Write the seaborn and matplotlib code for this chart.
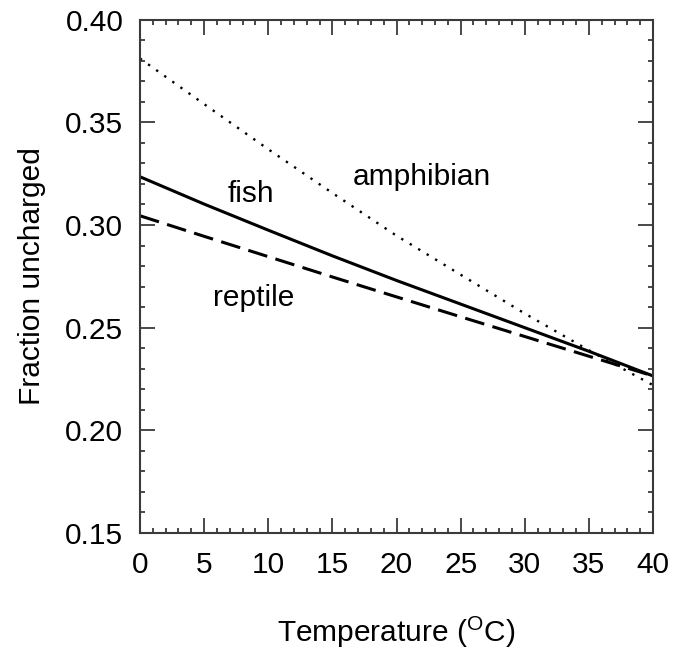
import matplotlib
matplotlib.use("Agg")
import matplotlib.pyplot as plt
import seaborn as sns
import pandas as pd
from matplotlib.ticker import MultipleLocator

# Data
temperature = [0, 5, 10, 15, 20, 25, 30, 35, 40]
fish = [0.3235, 0.3102, 0.2975, 0.2850, 0.2730, 0.2615, 0.2500, 0.2385, 0.2265]
reptile = [0.3045, 0.2945, 0.2846, 0.2747, 0.2650, 0.2553, 0.2457, 0.2361, 0.2265]
amphibian = [0.3811, 0.3589, 0.3369, 0.3156, 0.2948, 0.2758, 0.2569, 0.2390, 0.2220]

x_ticks = [0, 5, 10, 15, 20, 25, 30, 35, 40]
y_ticks = [0.15, 0.20, 0.25, 0.30, 0.35, 0.40]

sns.set_theme(style="white")
plt.rcParams["font.family"] = ["Liberation Sans", "DejaVu Sans"]
plt.rcParams["mathtext.fontset"] = "custom"
plt.rcParams["mathtext.rm"] = "Liberation Sans"
plt.rcParams["text.color"] = "black"

fig = plt.figure(figsize=(6.73, 6.51), dpi=100)
ax = fig.add_axes([140 / 673, 118 / 651, 513 / 673, (533 - 19.7) / 651])

df = pd.DataFrame({"T": temperature, "fish": fish, "reptile": reptile, "amphibian": amphibian})

sns.lineplot(data=df, x="T", y="fish", ax=ax, color="black", linewidth=2.2)
sns.lineplot(data=df, x="T", y="reptile", ax=ax, color="black", linewidth=2.2)
ax.lines[-1].set_dashes((6.5, 2.8))
sns.lineplot(data=df, x="T", y="amphibian", ax=ax, color="black", linewidth=1.7)
ax.lines[-1].set_dashes((1, 3.2))

ax.set_xlim(0, 40)
ax.set_ylim(0.15, 0.40)
ax.set_xticks(x_ticks)
ax.set_yticks(y_ticks)
ax.set_xticklabels([str(v) for v in x_ticks])
ax.set_yticklabels([f"{v:.2f}" for v in y_ticks])
ax.xaxis.set_minor_locator(MultipleLocator(1))
ax.yaxis.set_minor_locator(MultipleLocator(0.01))

spine_color = "#3a3a3a"
for s in ax.spines.values():
    s.set_visible(True)
    s.set_color(spine_color)
    s.set_linewidth(1.5)

ax.tick_params(which="both", direction="in", top=True, right=True,
               bottom=True, left=True, color=spine_color, width=1.3)
ax.tick_params(which="major", length=10.8, labelsize=21.5, labelcolor="black")
ax.tick_params(axis="x", which="major", pad=13)
ax.tick_params(axis="y", which="major", pad=12)
ax.tick_params(which="minor", length=3.6)

ax.set_xlabel(r"Temperature ($^{\mathrm{O}}$C)", fontsize=21.5, labelpad=25, color="black")
ax.set_ylabel("Fraction uncharged", fontsize=21.5, labelpad=14, color="black")

ax.text(6.86, 0.3112, "fish", fontsize=21.5, ha="left", va="baseline", color="black")
ax.text(16.6, 0.3195, "amphibian", fontsize=21.5, ha="left", va="baseline", color="black")
ax.text(5.69, 0.2608, "reptile", fontsize=21.5, ha="left", va="baseline", color="black")

fig.savefig("out.png", dpi=100)
